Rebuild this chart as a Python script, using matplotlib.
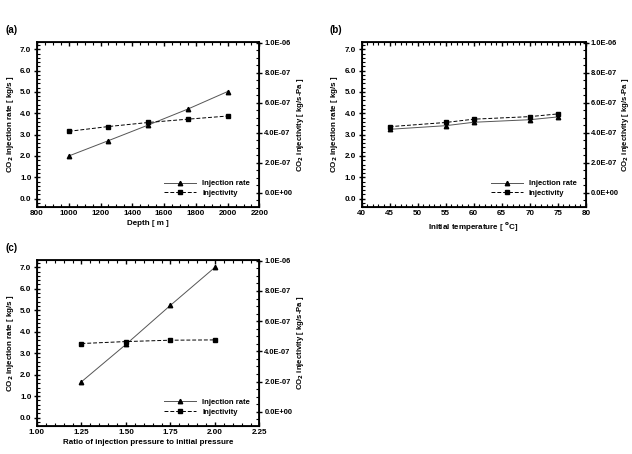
import numpy as np
import matplotlib
matplotlib.use("Agg")
import matplotlib.pyplot as plt
from matplotlib.ticker import MultipleLocator, FuncFormatter

plt.rcParams['font.family'] = ['Liberation Sans', 'DejaVu Sans']
plt.rcParams['font.weight'] = 'bold'
plt.rcParams['axes.labelweight'] = 'bold'
plt.rcParams['font.size'] = 5.8
plt.rcParams['mathtext.default'] = 'bf'

# (a) depth
depth = [1000, 1250, 1500, 1750, 2000]
rate_a = [2.0, 2.72, 3.45, 4.2, 5.02]
injv_a = [4.10e-7, 4.42e-7, 4.69e-7, 4.91e-7, 5.12e-7]

# (b) initial temperature
temp = [45, 55, 60, 70, 75]
rate_b = [3.25, 3.42, 3.58, 3.70, 3.83]
injv_b = [4.41e-7, 4.69e-7, 4.91e-7, 5.08e-7, 5.26e-7]

# (c) pressure ratio
ratio = [1.25, 1.50, 1.75, 2.00]
rate_c = [1.67, 3.41, 5.23, 7.0]
injv_c = [4.52e-7, 4.65e-7, 4.74e-7, 4.76e-7]


def sci(v, pos):
    s = "%.1E" % v
    if abs(v) < 1e-12:
        s = "0.0E+00"
    return s


def panel(rect, x, rate, injv, xlim, xmaj, xmin, xlabel, tag, xfmt, rlab_x):
    ax = fig.add_axes(rect)
    l1, = ax.plot(x, rate, '-', color='#555555', lw=0.7, marker='^', ms=3.2,
                  mfc='black', mec='black', label='Injection rate')
    ax.set_xlim(xlim)
    ax.set_ylim(-0.39, 7.34)
    ax.xaxis.set_major_locator(MultipleLocator(xmaj))
    ax.xaxis.set_minor_locator(MultipleLocator(xmin))
    ax.xaxis.set_major_formatter(FuncFormatter(lambda v, p: xfmt % v))
    ax.yaxis.set_major_locator(MultipleLocator(1.0))
    ax.yaxis.set_minor_locator(MultipleLocator(0.2))
    ax.yaxis.set_major_formatter(FuncFormatter(lambda v, p: "%.1f" % v))
    ax.tick_params(which='major', direction='inout', length=4, width=1.0, top=True, pad=2)
    ax.tick_params(which='minor', direction='in', length=2, width=0.8, top=True)
    ax.tick_params(axis='x', which='major', direction='in', length=3)
    for s in ax.spines.values():
        s.set_linewidth(1.3)
    ax.set_xlabel(xlabel, labelpad=2)
    ax.set_ylabel('CO$_2$ injection rate [ kg/s ]', labelpad=3)

    ax2 = ax.twinx()
    l2, = ax2.plot(x, injv, '--', color='black', lw=0.7, marker='s', ms=3.2,
                   dashes=(4, 2), label='Injectivity')
    ax2.set_ylim(-0.094e-6, 1.005e-6)
    ax2.yaxis.set_major_locator(MultipleLocator(2e-7))
    ax2.yaxis.set_minor_locator(MultipleLocator(5e-8))
    ax2.yaxis.set_major_formatter(FuncFormatter(sci))
    ax2.yaxis.get_offset_text().set_visible(False)
    ax2.tick_params(which='major', direction='inout', length=4, width=1.0, pad=1.5,
                    labelsize=5.4)
    ax2.tick_params(which='minor', direction='in', length=2, width=0.8)
    ax2.set_ylabel('CO$_2$ injectivity [ kg/s-Pa ]', fontsize=5.6)
    ax2.yaxis.set_label_coords(rlab_x, 0.5)

    ax.legend([l1, l2], ['Injection rate', 'Injectivity'], loc='lower right',
              frameon=False, handlelength=4.2, fontsize=5.5,
              bbox_to_anchor=(0.99, 0.02), labelspacing=0.3)
    fig.text(rect[0] - 0.05, rect[1] + rect[3] + 0.02, tag, fontsize=7, weight='bold')
    return ax


fig = plt.figure(figsize=(6.32, 4.54), dpi=100)

panel([0.0585, 0.544, 0.352, 0.3635], depth, rate_a, injv_a, (800, 2200), 200, 50,
      'Depth [ m ]', '(a)', '%d', 1.16)
panel([0.572, 0.544, 0.355, 0.3635], temp, rate_b, injv_b, (40, 80), 5, 1,
      'Initial temperature [ $^{o}$C]', '(b)', '%d', 1.152)
panel([0.0585, 0.0617, 0.352, 0.3656], ratio, rate_c, injv_c, (1.0, 2.25), 0.25, 0.05,
      'Ratio of injection pressure to initial pressure', '(c)', '%.2f', 1.16)

fig.savefig('out.png', dpi=100)
